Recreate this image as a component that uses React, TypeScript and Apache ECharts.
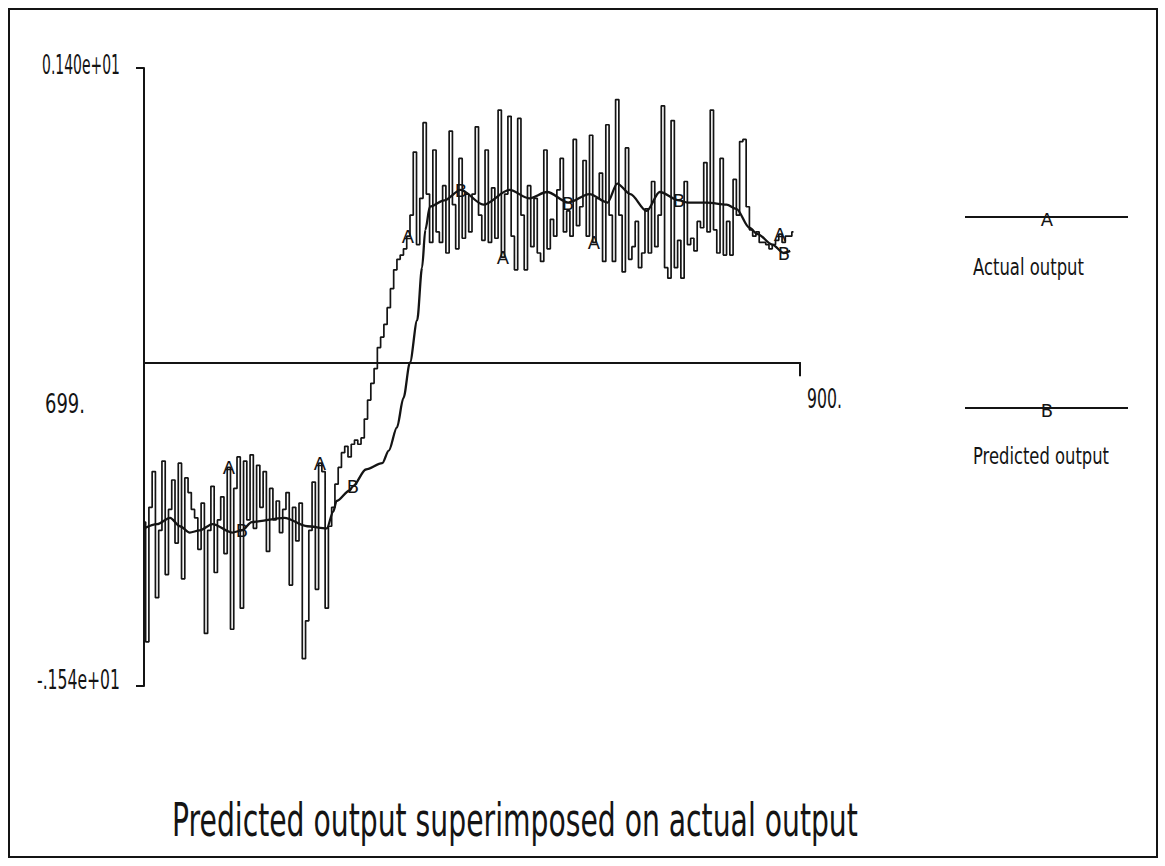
import React, { useEffect, useRef } from "react";
import * as echarts from "echarts";

// Sample range of the record and the plotted value range
const X_START = 699;
const X_END = 900;
const Y_MIN = -1.54;
const Y_MAX = 1.4;

// Actual output, one sample per time step starting at X_START
const actualOutput = [
  -0.76, -1.33, -0.69, -0.52, -1.12, -0.8, -0.47, -1.01, -0.7, -0.56,
  -0.86, -0.48, -1.03, -0.55, -0.62, -0.7, -0.74, -0.89, -0.67, -1.29,
  -0.8, -0.59, -1.0, -0.75, -0.64, -0.91, -0.5, -1.27, -0.6, -0.45,
  -1.17, -0.47, -0.75, -0.44, -0.79, -0.49, -0.69, -0.52, -0.9, -0.6,
  -0.75, -0.66, -0.81, -0.7, -0.62, -1.06, -0.69, -0.85, -0.67, -1.41,
  -1.23, -0.8, -0.57, -1.08, -0.48, -0.52, -1.17, -0.78, -0.69, -0.58,
  -0.5, -0.43, -0.4, -0.45, -0.39, -0.37, -0.39, -0.36, -0.27, -0.18,
  -0.1, -0.03, 0.07, 0.12, 0.18, 0.26, 0.35, 0.44, 0.49, 0.51,
  0.54, 0.6, 0.7, 1.0, 0.56, 0.78, 1.14, 0.8, 0.57, 1.01,
  0.62, 0.57, 0.84, 0.52, 1.1, 0.75, 0.54, 0.97, 0.59, 0.8,
  0.62, 0.8, 1.12, 0.7, 0.58, 1.01, 0.57, 0.83, 0.59, 1.2,
  0.5, 0.8, 1.17, 0.6, 0.44, 1.16, 0.7, 0.44, 0.84, 0.55,
  0.78, 0.52, 0.48, 1.01, 0.54, 0.68, 0.6, 0.82, 0.97, 0.62,
  0.72, 0.6, 1.06, 0.65, 0.74, 0.96, 0.6, 1.08, 0.57, 0.78,
  0.9, 0.48, 1.13, 0.7, 0.48, 1.25, 0.7, 0.43, 1.02, 0.49,
  0.55, 0.67, 0.45, 0.52, 0.73, 0.52, 0.86, 0.55, 0.7, 1.22,
  0.45, 0.4, 1.15, 0.45, 0.58, 0.4, 0.86, 0.56, 0.59, 0.53,
  0.67, 0.64, 0.95, 0.62, 1.2, 0.63, 0.52, 0.97, 0.51, 0.67,
  0.51, 0.87, 0.7, 1.05, 1.06, 0.74, 0.63, 0.6, 0.62, 0.57,
  0.57, 0.56, 0.54, 0.56, 0.58, 0.61, 0.57, 0.6, 0.6, 0.62,
];

// Predicted output (smooth model response)
const predictedX = [
  699, 703, 707, 710, 713, 716, 720, 726, 729, 732,
  742, 749, 755, 757, 758, 762, 763, 767, 772, 774,
  776.5, 778.5, 780.5, 782.7, 784.2, 785.2, 786.6, 791, 796, 803,
  811, 817, 822.5, 829, 835.5, 841, 844, 848, 853, 857,
  863, 865.5, 871.5, 877.5, 880.5, 884.5, 887, 891.5, 895, 897,
];
const predictedY = [
  -0.79, -0.77, -0.74, -0.78, -0.81, -0.8, -0.77, -0.81, -0.8, -0.76,
  -0.74, -0.78, -0.79, -0.71, -0.66, -0.61, -0.59, -0.51, -0.48, -0.42,
  -0.31, -0.17, 0.0, 0.2, 0.45, 0.63, 0.74, 0.77, 0.82, 0.75,
  0.82, 0.78, 0.81, 0.76, 0.8, 0.76, 0.85, 0.8, 0.72, 0.81,
  0.77, 0.76, 0.76, 0.75, 0.73, 0.64, 0.61, 0.56, 0.52, 0.53,
];

// Where the curve identification letters are plotted
const actualMarkerX = [725, 753, 780, 809, 837, 894];
const predictedMarkerX = [729, 763, 796, 829, 863, 895];

const yTickLabels = ["-.154e+01", "0.140e+01"];
const xTickLabels = ["699.", "900."];
const seriesNames = ["Actual output", "Predicted output"];
const seriesMarks = ["A", "B"];
const chartTitle = "Predicted output superimposed on actual output";

const INK = "#141414";
const FONT = "DejaVu Sans";

let measureCtx: CanvasRenderingContext2D | null = null;
function textWidth(text: string, size: number): number {
  if (!measureCtx) measureCtx = document.createElement("canvas").getContext("2d");
  if (!measureCtx) return text.length * size * 0.6;
  measureCtx.font = `${size}px "${FONT}"`;
  return measureCtx.measureText(text).width;
}

// Narrow plotter-style lettering: regular glyphs squeezed to a given width
function squeezedText(
  text: string,
  x: number,
  y: number,
  size: number,
  width: number,
  align: "left" | "right" | "center" = "left"
) {
  return {
    type: "text",
    x,
    y,
    scaleX: width / textWidth(text, size),
    silent: true,
    style: {
      text,
      fontSize: size,
      fontFamily: FONT,
      fill: INK,
      textAlign: align,
      textVerticalAlign: "middle",
    },
  };
}

// Curve identification letter centred on a point
function markLetter(letter: string, x: number, y: number) {
  return {
    type: "text",
    x: Math.round(x),
    y: Math.round(y),
    silent: true,
    z: 10,
    style: {
      text: letter,
      fontSize: 18,
      fontFamily: FONT,
      fill: INK,
      textAlign: "center",
      textVerticalAlign: "middle",
    },
  };
}

export default function App() {
  const ref = useRef<HTMLDivElement>(null);

  useEffect(() => {
    if (!ref.current) return;
    const chart = echarts.init(ref.current, null, { renderer: "svg" });
    const axisStroke = { color: INK, width: 2 };

    const predictedAt = (x: number) => predictedY[predictedX.indexOf(x)];

    chart.setOption({
      animation: false,
      backgroundColor: "#ffffff",
      grid: { left: 144, right: 365, top: 68, bottom: 180, outerBoundsMode: "none" },
      xAxis: {
        type: "value",
        min: X_START,
        max: X_END,
        axisLine: { show: true, onZero: true, lineStyle: axisStroke },
        axisTick: { show: true, customValues: [X_END], length: 14, lineStyle: axisStroke },
        axisLabel: { show: false },
        splitLine: { show: false },
      },
      yAxis: {
        type: "value",
        min: Y_MIN,
        max: Y_MAX,
        axisLine: { show: true, lineStyle: axisStroke },
        axisTick: { show: true, customValues: [Y_MIN, Y_MAX], length: 8, lineStyle: axisStroke },
        axisLabel: { show: false },
        splitLine: { show: false },
      },
      series: [
        {
          name: seriesNames[0],
          type: "line",
          data: actualOutput.map((v, i) => [X_START + i, v]),
          step: "middle",
          showSymbol: false,
          lineStyle: { color: INK, width: 1.7 },
          z: 2,
          silent: true,
        },
        {
          name: seriesNames[1],
          type: "line",
          data: predictedX.map((x, i) => [x, predictedY[i]]),
          smooth: 0.3,
          smoothMonotone: "x",
          showSymbol: false,
          lineStyle: { color: INK, width: 2.3 },
          z: 3,
          silent: true,
        },
      ],
    });

    const toPx = (x: number, y: number) =>
      chart.convertToPixel({ gridIndex: 0 }, [x, y]) as number[];
    const [xLeft, yTop] = toPx(X_START, Y_MAX);
    const [, yBottom] = toPx(X_START, Y_MIN);
    const [xRight, yZero] = toPx(X_END, 0);

    const actualLetters = actualMarkerX.map((x) => {
      const [px, py] = toPx(x, actualOutput[x - X_START]);
      return markLetter(seriesMarks[0], px, py);
    });
    const predictedLetters = predictedMarkerX.map((x) => {
      const [px, py] = toPx(x, predictedAt(x));
      return markLetter(seriesMarks[1], px, py);
    });

    const legendRow = (lineY: number, textY: number, idx: number, labelWidth: number) => [
      {
        type: "line",
        silent: true,
        shape: { x1: 965, y1: lineY, x2: 1128, y2: lineY },
        style: { stroke: INK, lineWidth: 2 },
      },
      markLetter(seriesMarks[idx], 1047, lineY + 2),
      squeezedText(seriesNames[idx], 973, textY, 23, labelWidth),
    ];

    chart.setOption({
      graphic: [
        {
          type: "rect",
          silent: true,
          shape: { x: 9, y: 9, width: 1148, height: 848 },
          style: { fill: "none", stroke: INK, lineWidth: 2 },
        },
        squeezedText(yTickLabels[1], xLeft - 24, yTop - 3, 27, 78, "right"),
        squeezedText(yTickLabels[0], xLeft - 24, yBottom - 6, 27, 83, "right"),
        squeezedText(xTickLabels[0], xLeft - 99, yZero + 41, 27, 40),
        squeezedText(xTickLabels[1], xRight + 7, yZero + 37, 27, 35),
        ...actualLetters,
        ...predictedLetters,
        ...legendRow(217, 267, 0, 111),
        ...legendRow(408, 456, 1, 136),
        squeezedText(chartTitle, 172, 820, 46, 686),
      ],
    });

    return () => chart.dispose();
  }, []);

  return (
    <div
      ref={ref}
      style={{ position: "fixed", left: 0, top: 0, width: 1165, height: 866, background: "#fff" }}
    />
  );
}
